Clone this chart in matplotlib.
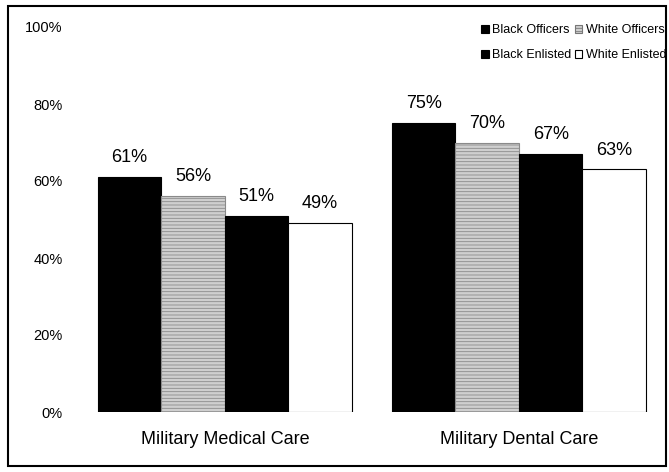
import matplotlib.pyplot as plt
from matplotlib.patches import Rectangle, Patch
import numpy as np

plt.rcParams['font.family'] = ['Liberation Sans', 'DejaVu Sans']
plt.rcParams['hatch.linewidth'] = 0.6

categories = ["Military Medical Care", "Military Dental Care"]
groups = ["Black Officers", "White Officers", "Black Enlisted", "White Enlisted"]
black_officers = [61, 75]
white_officers = [56, 70]
black_enlisted = [51, 67]
white_enlisted = [49, 63]
yticks = [0, 20, 40, 60, 80, 100]

series = [black_officers, white_officers, black_enlisted, white_enlisted]
faces = ["black", "#cfcfcf", "black", "white"]
hatches = [None, "-----", None, None]

W, H = 669, 472
fig = plt.figure(figsize=(W / 100, H / 100), dpi=100)
ax = fig.add_axes([60 / W, 60 / H, 600 / W, 385 / H])

x = np.arange(len(categories))
w = 0.216
for i, vals in enumerate(series):
    pos = x + (i - 1.5) * w
    bars = ax.bar(pos, vals, width=w, color=faces[i], edgecolor="black",
                  linewidth=0.8, hatch=hatches[i])
    if hatches[i]:
        for b in bars:
            b.set_edgecolor("#8a8a8a")
    for p, v in zip(pos, vals):
        ax.annotate(f"{v}%", (p, v), xytext=(0, 14), textcoords="offset points",
                    ha="center", va="center", fontsize=13)

ax.set_xlim(-0.561, 1.480)
ax.set_ylim(0, 100)
ax.set_yticks(yticks)
ax.set_yticklabels([f"{t}%" for t in yticks], fontsize=10.5)
ax.set_xticks(x)
ax.set_xticklabels(categories, fontsize=13)
ax.tick_params(axis="y", length=0, pad=-2)
ax.tick_params(axis="x", length=0, pad=14)
for s in ax.spines.values():
    s.set_visible(False)

handles = [Patch(facecolor=f, edgecolor="black" if h is None else "#777",
                 hatch=h, linewidth=0.8) for f, h in zip(faces, hatches)]
order = [0, 2, 1, 3]
fig.legend([handles[k] for k in order], [groups[k] for k in order],
           loc="upper left", bbox_to_anchor=(481 / W, 1 - 24 / H), ncol=2,
           frameon=False, fontsize=9, handlelength=0.6, handleheight=0.6,
           handletextpad=0.3, columnspacing=0.25, labelspacing=1.05,
           borderpad=0, borderaxespad=0)

fig.patches.append(Rectangle((8 / W, 6 / H), 658 / W, 460 / H, transform=fig.transFigure,
                             fill=False, edgecolor="black", linewidth=1.5))

fig.savefig("out.png", dpi=100)
